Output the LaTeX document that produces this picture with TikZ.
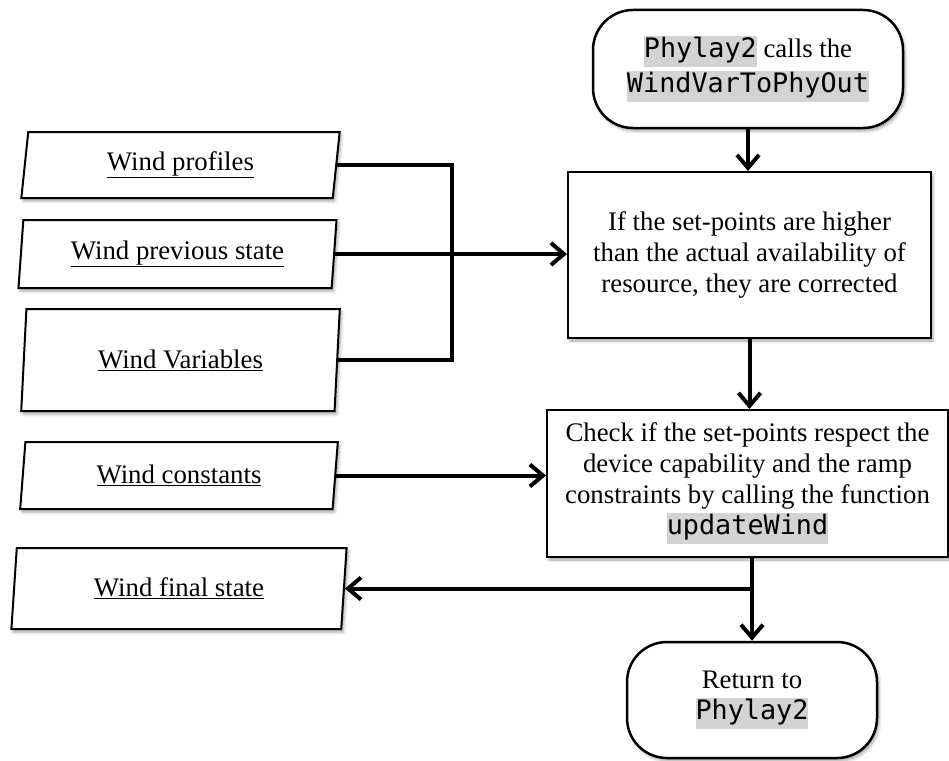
\documentclass[tikz,border=0pt]{standalone}
\usepackage{fontspec}
\setmainfont{Liberation Serif}
\setmonofont{DejaVu Sans Mono}
\usetikzlibrary{shapes.geometric, arrows.meta, positioning, calc, shadows.blur}
\definecolor{codegray}{HTML}{D3D3D3}
\newcommand{\codehl}[1]{{\setlength{\fboxsep}{0pt}\colorbox{codegray}{\strut\ttfamily #1}}}
\newcommand{\flowfont}{\fontsize{26.8}{31}\selectfont}
\tikzset{
  softshadow/.style={blur shadow={shadow xshift=2pt, shadow yshift=-3pt,
                     shadow blur radius=3pt, shadow opacity=35}},
  termbox/.style={rectangle, draw, line width=2.5pt, rounded corners=40pt,
                  fill=white, align=center, font=\flowfont, softshadow},
  procbox/.style={rectangle, draw, line width=2pt, fill=white,
                  align=center, font=\flowfont, softshadow},
  databox/.style={trapezium, trapezium left angle=84, trapezium right angle=96,
                  trapezium stretches=true, draw, line width=2pt, fill=white,
                  align=center, font=\flowfont, softshadow},
  flow/.style={line width=4pt, -{Straight Barb[length=13pt,width=22pt]}},
  joinline/.style={line width=4pt},
}

\begin{document}
\begin{tikzpicture}[x=1pt, y=-1pt]
  \useasboundingbox (0,0) rectangle (949,760);

  % --- inputs / outputs (left column) ---
  \node[databox, minimum width=319pt, minimum height=66pt] (profiles) at (180.5,165)
       {\underline{Wind profiles}};
  \node[databox, minimum width=319pt, minimum height=68pt] (prevstate) at (177.5,254)
       {\underline{Wind previous state}};
  \node[databox, minimum width=319pt, minimum height=102pt] (variables) at (180.5,360)
       {\underline{Wind Variables}};
  \node[databox, minimum width=318pt, minimum height=67pt] (constants) at (179,475.5)
       {\underline{Wind constants}};
  \node[databox, minimum width=336pt, minimum height=81pt] (finalstate) at (179,588.5)
       {\underline{Wind final state}};

  % --- main flow (right column) ---
  \node[termbox, minimum width=310pt, minimum height=118pt] (start) at (748,69)
       {\codehl{Phylay2} calls the\\[4pt]\codehl{WindVarToPhyOut}};
  \node[procbox, minimum width=363pt, minimum height=166pt] (correct) at (749.5,255)
       {If the set-points are higher\\than the actual availability of\\resource, they are corrected};
  \node[procbox, minimum width=401pt, minimum height=147pt] (check) at (747.5,483.5)
       {Check if the set-points respect the\\device capability and the ramp\\constraints by calling the function\\\codehl{updateWind}};
  \node[termbox, minimum width=250pt, minimum height=116pt] (return) at (752,700)
       {Return to\\\codehl{Phylay2}};

  % --- wiring ---
  \coordinate (bus) at (452,0);
  \draw[joinline] (profiles.east) -| (bus |- variables.east) -- (variables.east);
  \draw[flow] (prevstate.east) -- (prevstate.east -| correct.west);
  \draw[flow] (start.south) -- (start.south |- correct.north);
  \draw[flow] (correct.south) -- (correct.south |- check.north);
  \draw[flow] (constants.east) -- (constants.east -| check.west);

  % output branch
  \coordinate (split) at (return.north |- finalstate.east);
  \draw[flow] (return.north |- check.south) -- (return.north);
  \draw[flow] (split) -- (finalstate.east);

\end{tikzpicture}
\end{document}
